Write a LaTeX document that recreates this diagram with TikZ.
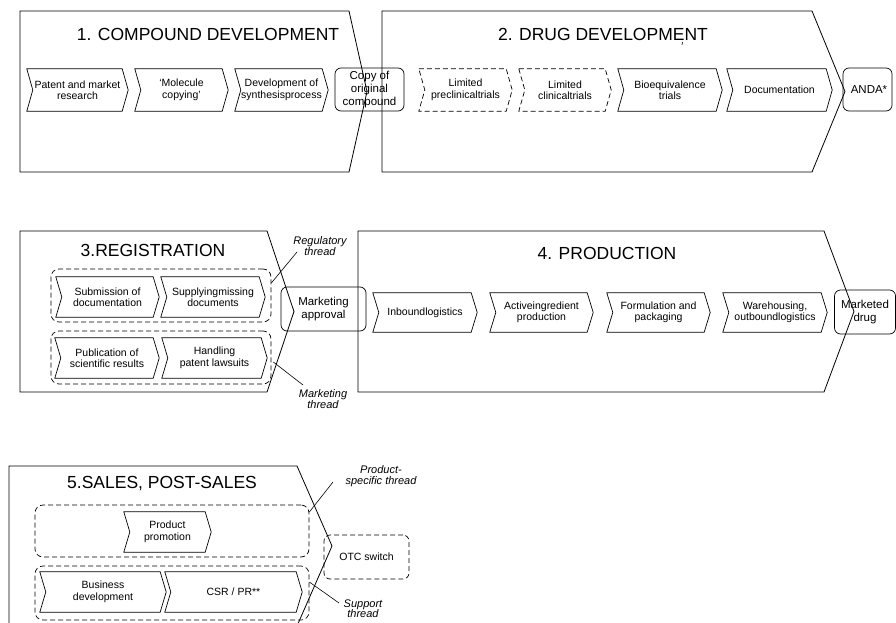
\documentclass[tikz,border=0pt]{standalone}
\usepackage{fontspec}
\setmainfont{Liberation Sans}
\usetikzlibrary{calc}
\newlength{\chd}
\setlength{\chd}{6pt}
\tikzset{
 frame/.style={draw, line width=0.8pt},
 ttl/.style={font=\fontsize{17.5}{20}\selectfont, inner sep=0pt, anchor=base},
 chevt/.style={inner sep=1pt, align=center, font=\fontsize{10.5}{11.5}\selectfont},
 chevl/.style={line width=0.7pt},
 rbox/.style={draw, rounded corners=6pt, line width=0.7pt, align=center, inner sep=0pt, font=\fontsize{11.5}{13}\selectfont},
 dsh/.style={dash pattern=on 5pt off 3pt},
 grp/.style={draw, dsh, rounded corners=8pt, line width=0.7pt, inner sep=0pt},
 lbl/.style={font=\fontsize{11}{10.5}\selectfont\itshape, align=center, inner sep=0pt},
 thr/.style={line width=0.6pt},
}
% #1 options, #2 name, #3 x, #4 y, #5 w, #6 h, #7 text
\newcommand{\mychev}[7][]{%
 \node[chevt, minimum width=#5pt, minimum height=#6pt] (#2) at (#3,#4) {#7};
 \draw[chevl,#1] (#2.north west) -- ([xshift=-\chd]#2.north east) -- (#2.east)
   -- ([xshift=-\chd]#2.south east) -- (#2.south west) -- ([xshift=\chd]#2.west) -- cycle;}
\begin{document}
\begin{tikzpicture}[x=1pt,y=-1pt]
\useasboundingbox (0,0) rectangle (896,623);
\clip (0,0) rectangle (896,623);

% ---------- Section 1 ----------
\draw[frame] (20,11) -- (349,11) -- (367,91.5) -- (349,172) -- (20,172) -- cycle;
\node[ttl] (t1) at (208,40.7) {1. COMPOUND DEVELOPMENT};
\mychev{c1a}{77.5}{90}{101}{42}{Patent and market\\research}
\mychev{c1b}{181.5}{90}{93}{42}{`Molecule\\copying'}
\mychev{c1c}{281.5}{90}{93}{42}{Development of\\synthesisprocess}
\node[rbox, minimum width=69pt, minimum height=43pt] (copy) at (369.5,89.5) {Copy of\\original\\compound};

% ---------- Section 2 ----------
\draw[frame] (382,11) -- (812,11) -- (845,91.5) -- (812,172) -- (382,172) -- cycle;
\node[ttl] (t2) at (603,40.7) {2. DRUG DEVELOPMENT};
\draw[line width=0.6pt] (682.5,42) -- (682,45);
\mychev[dsh]{c2a}{465.5}{90}{93}{42}{Limited\\preclinicaltrials}
\mychev[dsh]{c2b}{565}{90}{92}{42}{Limited\\clinicaltrials}
\mychev{c2c}{670}{90}{104}{42}{Bioequivalence\\trials}
\mychev{c2d}{779.5}{90}{105}{42}{Documentation}
\node[rbox, minimum width=49pt, minimum height=43pt, font=\fontsize{11.5}{13}\selectfont] (anda) at (867.5,89.5) {\hspace*{3pt}ANDA*};

% ---------- Section 3 ----------
\draw[frame] (20,231) -- (267,231) -- (294,311.5) -- (267,392) -- (20,392) -- cycle;
\node[ttl] (t3) at (153,256.7) {3.REGISTRATION};
\node[grp, minimum width=220pt, minimum height=53pt] (g1) at (161,295.5) {};
\node[grp, minimum width=220pt, minimum height=53pt] (g2) at (161,357.5) {};
\mychev{c3a}{107.5}{297}{103}{40}{Submission of\\documentation}
\mychev{c3b}{213}{297}{104}{40}{Supplyingmissing\\documents}
\mychev{c3c}{107}{358}{104}{40}{Publication of\\scientific results}
\mychev{c3d}{214.5}{358}{105}{40}{Handling\\patent lawsuits}
\node[rbox, minimum width=85pt, minimum height=44pt] (mkt) at (323.5,309) {Marketing\\approval};
\node[lbl] (lreg) at (320,246) {Regulatory\\thread};
\node[lbl] (lmkt) at (323,399) {Marketing\\thread};
\coordinate (regend) at (297,252);
\coordinate (mktend) at (303,385);
\draw[thr] ([yshift=12.5pt]g1.east) -- (regend);
\draw[thr] ([xshift=2pt,yshift=-4.5pt]g2.east) -- (mktend);

% ---------- Section 4 ----------
\draw[frame] (358,231) -- (824,231) -- (854,311.5) -- (824,392) -- (358,392) -- cycle;
\node[ttl] (t4) at (607,259.3) {4. PRODUCTION};
\mychev{c4a}{425}{312.5}{104}{39}{Inboundlogistics}
\mychev{c4b}{541.5}{312.5}{103}{39}{Activeingredient\\production}
\mychev{c4c}{658.5}{312.5}{103}{39}{Formulation and\\packaging}
\mychev{c4d}{775}{312.5}{104}{39}{Warehousing,\\outboundlogistics}
\node[rbox, minimum width=61pt, minimum height=44pt] (mdrug) at (865,312) {Marketed\\drug};

% ---------- Section 5 ----------
\draw[frame] (9,466) -- (297,466) -- (332,546) -- (297,626) -- (9,626) -- cycle;
\node[ttl] (t5) at (162,488.3) {5.SALES, POST-SALES};
\node[grp, minimum width=274pt, minimum height=52pt] (gA) at (172,531) {};
\node[grp, minimum width=274pt, minimum height=54pt] (gB) at (172,593) {};
\mychev{pp}{167.5}{532}{87}{40}{Product\\promotion}
\mychev{bd}{103}{592}{126}{40}{Business\\development}
\mychev{csr}{233.5}{592}{137}{40}{CSR / PR**}
\node[rbox, dsh, minimum width=85pt, minimum height=44pt, font=\fontsize{10.5}{12}\selectfont] (otc) at (366.5,557) {OTC switch};
\node[lbl] (lps) at (381,476) {Product-\\specific thread};
\node[lbl] (lsup) at (363,608.5) {Support\\thread};
\coordinate (psend) at (333,482);
\coordinate (supend) at (339,603);
\draw[thr] ([yshift=19pt]gA.east) -- (psend);
\draw[thr] ([yshift=11pt]gB.east) -- (supend);
\end{tikzpicture}
\end{document}
